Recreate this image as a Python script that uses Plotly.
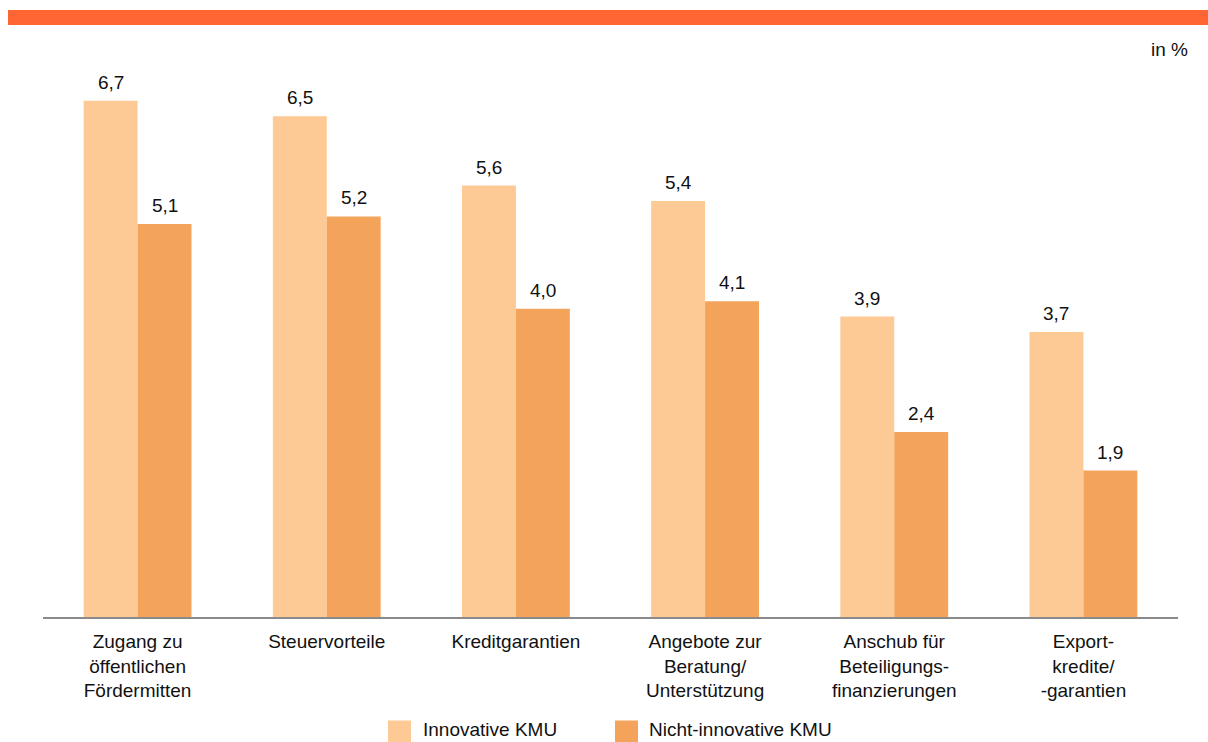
import plotly.graph_objects as go

categories = [
    "Zugang zu<br>öffentlichen<br>Fördermitten",
    "Steuervorteile",
    "Kreditgarantien",
    "Angebote zur<br>Beratung/<br>Unterstützung",
    "Anschub für<br>Beteiligungs-<br>finanzierungen",
    "Export-<br>kredite/<br>-garantien",
]
innovative = [6.7, 6.5, 5.6, 5.4, 3.9, 3.7]
nicht_innovative = [5.1, 5.2, 4.0, 4.1, 2.4, 1.9]
series_names = ["Innovative KMU", "Nicht-innovative KMU"]
unit_label = "in %"

C_LIGHT = "#FDC994"
C_DARK = "#F4A35A"
C_BAND = "#FF6633"
FONT = "Liberation Sans, Arial, sans-serif"
TXT = "#111111"
FS = 19


def fmt(v):
    return f"{v:.1f}".replace(".", ",")


fig = go.Figure()
fig.add_trace(go.Bar(x=categories, y=innovative, name=series_names[0],
                     marker=dict(color=C_LIGHT, line=dict(width=0))))
fig.add_trace(go.Bar(x=categories, y=nicht_innovative, name=series_names[1],
                     marker=dict(color=C_DARK, line=dict(width=0))))

annotations = []
for vals, shift in ((innovative, -27), (nicht_innovative, 27)):
    for c, v in zip(categories, vals):
        annotations.append(dict(x=c, y=v, xref="x", yref="y", text=fmt(v),
                                showarrow=False, yanchor="bottom", xshift=shift,
                                yshift=6, font=dict(family=FONT, size=FS, color=TXT)))

annotations.append(dict(x=1.0106, y=1.018, xref="paper", yref="paper", text=unit_label,
                        showarrow=False, xanchor="right", yanchor="middle",
                        font=dict(family=FONT, size=FS, color=TXT)))

shapes = [dict(type="rect", xref="paper", yref="paper",
               x0=(8 - 43) / 1135, x1=(1208 - 43) / 1135,
               y0=(617 - 25) / 557, y1=(617 - 10) / 557,
               fillcolor=C_BAND, line=dict(width=0), layer="above")]

leg_y = (617 - 731.5) / 557
for name, color, sq_x, tx_x in ((series_names[0], C_LIGHT, 399.5, 421),
                                (series_names[1], C_DARK, 626.5, 647)):
    xs = (sq_x - 43) / 1135
    shapes.append(dict(type="rect", xref="paper", yref="paper",
                       xsizemode="pixel", ysizemode="pixel",
                       xanchor=xs, yanchor=leg_y,
                       x0=-11.5, x1=11.5, y0=-11, y1=11,
                       fillcolor=color, line=dict(width=0)))
    annotations.append(dict(x=(tx_x - 43) / 1135, y=leg_y + 2 / 557, xref="paper", yref="paper",
                            text=name, showarrow=False, xanchor="left", yanchor="middle",
                            font=dict(family=FONT, size=FS, color=TXT)))

fig.update_layout(
    width=1208, height=742,
    margin=dict(l=43, r=30, t=60, b=125),
    paper_bgcolor="white", plot_bgcolor="white",
    barmode="group", bargap=0.43, bargroupgap=0,
    showlegend=False,
    font=dict(family=FONT, size=FS, color=TXT),
    annotations=annotations, shapes=shapes,
    xaxis=dict(showline=True, linecolor="#8a8a8a", linewidth=2, ticks="",
               showgrid=False, ticklabelstandoff=6,
               tickfont=dict(family=FONT, size=FS, color=TXT)),
    yaxis=dict(range=[0, 7.23], visible=False, showgrid=False, zeroline=False),
)

fig.write_html("out.html", config={"displayModeBar": False},
               post_script="document.body.style.margin='0';document.body.style.overflow='hidden';")
